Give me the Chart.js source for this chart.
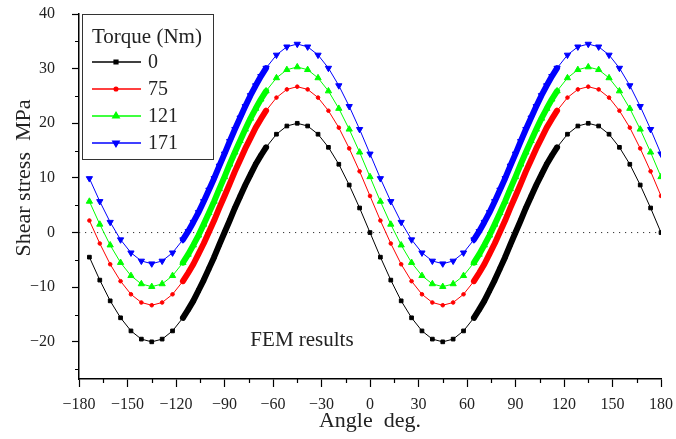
<!DOCTYPE html>
<html>
<head>
<meta charset="utf-8">
<script src="https://cdn.jsdelivr.net/npm/chart.js@4.4.0/dist/chart.umd.min.js"></script>
<style>
  body { margin: 0; background: #fff; }
  canvas { display: block; }
</style>
</head>
<body>
<canvas id="shearChart" width="676" height="439"></canvas>
<script>
// Açı değerleri (deg.)
const angles = [
  -173.57, -167.14, -160.71, -154.29, -147.86, -141.43, -135, -128.57, -122.14, -115.71,
  -112.5, -109.29, -106.07, -102.86, -99.64, -96.43, -93.21, -90, -86.79, -83.57, -80.36, -77.14, -73.93, -70.71, -67.5,
  -64.29, -57.86, -51.43, -45, -38.57, -32.14, -25.71, -19.29, -12.86, -6.43, 0,
  6.43, 12.86, 19.29, 25.71, 32.14, 38.57, 45, 51.43, 57.86, 64.29,
  67.5, 70.71, 73.93, 77.14, 80.36, 83.57, 86.79, 90, 93.21, 96.43, 99.64, 102.86, 106.07, 109.29, 112.5,
  115.71, 122.14, 128.57, 135, 141.43, 147.86, 154.29, 160.71, 167.14, 173.57, 180
];

// Kayma gerilmesi (MPa) - tork değerlerine göre
const torque0 = [
  -4.5, -8.7, -12.5, -15.6, -18.0, -19.5, -20.0, -19.5, -18.0, -15.6,
  -14.1, -12.5, -10.6, -8.7, -6.6, -4.5, -2.2, 0, 2.2, 4.5, 6.6, 8.7, 10.6, 12.5, 14.1,
  15.6, 18.0, 19.5, 20.0, 19.5, 18.0, 15.6, 12.5, 8.7, 4.5, 0,
  -4.5, -8.7, -12.5, -15.6, -18.0, -19.5, -20.0, -19.5, -18.0, -15.6,
  -14.1, -12.5, -10.6, -8.7, -6.6, -4.5, -2.2, 0, 2.2, 4.5, 6.6, 8.7, 10.6, 12.5, 14.1,
  15.6, 18.0, 19.5, 20.0, 19.5, 18.0, 15.6, 12.5, 8.7, 4.5, 0
];
const torque75 = [
  2.2, -2.0, -5.8, -8.9, -11.3, -12.8, -13.3, -12.8, -11.3, -8.9,
  -7.4, -5.8, -3.9, -2.0, 0.1, 2.2, 4.5, 6.7, 8.9, 11.2, 13.3, 15.4, 17.3, 19.2, 20.8,
  22.3, 24.7, 26.2, 26.7, 26.2, 24.7, 22.3, 19.2, 15.4, 11.2, 6.7,
  2.2, -2.0, -5.8, -8.9, -11.3, -12.8, -13.3, -12.8, -11.3, -8.9,
  -7.4, -5.8, -3.9, -2.0, 0.1, 2.2, 4.5, 6.7, 8.9, 11.2, 13.3, 15.4, 17.3, 19.2, 20.8,
  22.3, 24.7, 26.2, 26.7, 26.2, 24.7, 22.3, 19.2, 15.4, 11.2, 6.7
];
const torque121 = [
  5.7, 1.5, -2.3, -5.5, -7.9, -9.4, -9.9, -9.4, -7.9, -5.5,
  -4.0, -2.3, -0.5, 1.5, 3.6, 5.7, 8.0, 10.2, 12.5, 14.7, 16.8, 18.9, 20.9, 22.7, 24.4,
  25.9, 28.3, 29.8, 30.3, 29.8, 28.3, 25.9, 22.7, 18.9, 14.7, 10.2,
  5.7, 1.5, -2.3, -5.5, -7.9, -9.4, -9.9, -9.4, -7.9, -5.5,
  -4.0, -2.3, -0.5, 1.5, 3.6, 5.7, 8.0, 10.2, 12.5, 14.7, 16.8, 18.9, 20.9, 22.7, 24.4,
  25.9, 28.3, 29.8, 30.3, 29.8, 28.3, 25.9, 22.7, 18.9, 14.7, 10.2
];
const torque171 = [
  9.9, 5.7, 1.9, -1.3, -3.7, -5.2, -5.7, -5.2, -3.7, -1.3,
  0.2, 1.9, 3.7, 5.7, 7.8, 9.9, 12.2, 14.4, 16.7, 18.9, 21.0, 23.1, 25.1, 26.9, 28.6,
  30.1, 32.5, 34.0, 34.5, 34.0, 32.5, 30.1, 26.9, 23.1, 18.9, 14.4,
  9.9, 5.7, 1.9, -1.3, -3.7, -5.2, -5.7, -5.2, -3.7, -1.3,
  0.2, 1.9, 3.7, 5.7, 7.8, 9.9, 12.2, 14.4, 16.7, 18.9, 21.0, 23.1, 25.1, 26.9, 28.6,
  30.1, 32.5, 34.0, 34.5, 34.0, 32.5, 30.1, 26.9, 23.1, 18.9, 14.4
];

const torqueLabels = ["0", "75", "121", "171"];
const zeroAngles = [-180, 180];
const zeroValues = [0, 0];

// Eksen etiketleri
const xTicks = [-180, -150, -120, -90, -60, -30, 0, 30, 60, 90, 120, 150, 180];
const yTicks = [-20, -10, 0, 10, 20, 30, 40];

const serif = '"Liberation Serif", "DejaVu Serif", serif';
const minus = v => String(v).replace("-", "\u2212");

// FEM yoğun bölgesi: bu aralıkta çizgi kalın
function isDense(a, b) {
    const inRange = x => Math.abs(x) >= 64 && Math.abs(x) <= 116;
    return inRange(a) && inRange(b) && Math.sign(a) === Math.sign(b);
}

function makeSeries(label, values, color, pointStyle, radius, rotation) {
    return {
        label: label,
        data: angles.map((a, i) => ({ x: a, y: values[i] })),
        borderColor: color,
        backgroundColor: color,
        borderWidth: 1,
        pointStyle: pointStyle,
        pointRadius: radius,
        pointRotation: rotation || 0,
        pointBorderWidth: 1,
        pointBorderColor: color,
        pointBackgroundColor: color,
        borderJoinStyle: "round",
        borderCapStyle: "round",
        segment: {
            borderWidth: ctx => isDense(ctx.p0.parsed.x, ctx.p1.parsed.x) ? 6 : 1,
        },
        order: 1,
    };
}

const datasets = [
    makeSeries(torqueLabels[0], torque0, "#000000", "rect", 2.6),
    makeSeries(torqueLabels[1], torque75, "#ff0000", "circle", 1.8),
    makeSeries(torqueLabels[2], torque121, "#00ff00", "triangle", 3.6),
    makeSeries(torqueLabels[3], torque171, "#0000ff", "triangle", 3.6, 180),
    {
        label: "zero",
        data: zeroAngles.map((a, i) => ({ x: a, y: zeroValues[i] })),
        borderColor: "#333",
        borderWidth: 1,
        borderDash: [1.2, 4.8],
        pointRadius: 0,
        order: 10,
    },
];

// Lejant, eksen başlığı ve ara çentikler
const decorations = {
    id: "decorations",
    afterDraw(chart) {
        const ctx = chart.ctx;
        const xs = chart.scales.x;
        const ys = chart.scales.y;
        ctx.save();

        // ara çentikler
        ctx.strokeStyle = "#000";
        ctx.lineWidth = 1.2;
        ctx.beginPath();
        for (let v = -165; v < 180; v += 30) {
            const px = Math.round(xs.getPixelForValue(v)) + 0.5;
            ctx.moveTo(px, ys.bottom);
            ctx.lineTo(px, ys.bottom + 4);
        }
        for (let v = -25; v < 40; v += 10) {
            const py = Math.round(ys.getPixelForValue(v)) + 0.5;
            ctx.moveTo(xs.left, py);
            ctx.lineTo(xs.left - 4, py);
        }
        ctx.stroke();

        // y ekseni başlığı
        ctx.fillStyle = "#222";
        ctx.font = "22px " + serif;
        ctx.textAlign = "center";
        ctx.textBaseline = "middle";
        ctx.save();
        ctx.translate(24, 178);
        ctx.rotate(-Math.PI / 2);
        ctx.fillText("Shear stress  MPa", 0, 0);
        ctx.restore();

        // FEM notu
        ctx.font = "21px " + serif;
        ctx.fillText("FEM results", 302, 340);

        // lejant kutusu
        ctx.strokeStyle = "#333";
        ctx.lineWidth = 1;
        ctx.strokeRect(82.5, 14.5, 131, 145);
        ctx.textAlign = "left";
        ctx.font = "21px " + serif;
        ctx.fillText("Torque (Nm)", 92, 37);
        ctx.font = "20px " + serif;
        const rows = [62, 89, 116, 143];
        chart.data.datasets.slice(0, 4).forEach((ds, i) => {
            const y = rows[i];
            ctx.strokeStyle = ds.borderColor;
            ctx.lineWidth = 1.5;
            ctx.beginPath();
            ctx.moveTo(92, y);
            ctx.lineTo(141, y);
            ctx.stroke();
            ctx.fillStyle = ds.borderColor;
            Chart.helpers.drawPoint(ctx, {
                pointStyle: ds.pointStyle,
                radius: ds.pointRadius,
                rotation: ds.pointRotation,
                borderWidth: 1,
            }, 116, y);
            ctx.fillStyle = "#222";
            ctx.fillText(ds.label, 148, y + 1);
        });
        ctx.restore();
    },
};

new Chart(document.getElementById("shearChart"), {
    type: "line",
    data: { datasets: datasets },
    options: {
        responsive: false,
        animation: false,
        devicePixelRatio: 1,
        layout: { padding: { top: 14, right: 15, left: 0, bottom: 0 } },
        plugins: {
            legend: { display: false },
            tooltip: { enabled: false },
        },
        scales: {
            x: {
                type: "linear",
                min: -180,
                max: 180,
                afterBuildTicks: s => { s.ticks = xTicks.map(v => ({ value: v })); },
                afterFit: s => { s.height = 60; s.paddingLeft = 0; s.paddingRight = 0; },
                ticks: {
                    callback: v => minus(v),
                    font: { family: serif, size: 16 },
                    color: "#222",
                    padding: 8,
                    maxRotation: 0,
                },
                grid: { drawOnChartArea: false, tickLength: 8, tickColor: "#000", tickWidth: 1.2 },
                border: { color: "#000", width: 1.5 },
                title: {
                    display: true,
                    text: "Angle  deg.",
                    font: { family: serif, size: 22 },
                    color: "#222",
                    padding: { top: 0, bottom: 5 },
                },
            },
            y: {
                type: "linear",
                min: -26.8,
                max: 40,
                afterBuildTicks: s => { s.ticks = yTicks.map(v => ({ value: v })); },
                afterFit: s => { s.width = 79; s.paddingTop = 0; s.paddingBottom = 0; },
                ticks: {
                    callback: v => minus(v),
                    font: { family: serif, size: 16 },
                    color: "#222",
                    padding: 17,
                },
                grid: { drawOnChartArea: false, tickLength: 7, tickColor: "#000", tickWidth: 1.2 },
                border: { color: "#000", width: 1.5 },
            },
        },
    },
    plugins: [decorations],
});
</script>
</body>
</html>
